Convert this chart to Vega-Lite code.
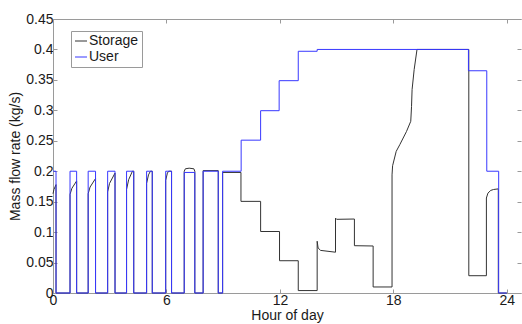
{
  "$schema": "https://vega.github.io/schema/vega-lite/v6.json",
  "width": 468,
  "height": 274,
  "autosize": {"type": "none"},
  "padding": {"left": 53, "top": 19, "right": 1, "bottom": 31},
  "background": "white",
  "config": {
    "view": {"stroke": null},
    "font": "Liberation Sans",
    "axis": {
      "domainColor": "#9a9a9a",
      "tickColor": "#9a9a9a",
      "labelColor": "#1a1a1a",
      "titleColor": "#1a1a1a",
      "labelFont": "Liberation Sans",
      "titleFont": "Liberation Sans",
      "labelFontSize": 14,
      "titleFontSize": 14,
      "titleFontWeight": "normal",
      "tickSize": -4,
      "labelFlush": false,
      "grid": false
    },
    "legend": {
      "orient": "none",
      "legendX": 18,
      "legendY": 12,
      "symbolType": "stroke",
      "symbolSize": 144,
      "symbolStrokeWidth": 1,
      "labelFont": "Liberation Sans",
      "labelFontSize": 14,
      "labelColor": "#1a1a1a",
      "labelOffset": 1,
      "padding": 3,
      "rowPadding": 2,
      "strokeColor": "#9a9a9a",
      "fillColor": "white"
    }
  },
  "data": {
    "values": [
      {"series": "Storage", "hour": 0, "flow": 0.163},
      {"series": "Storage", "hour": 0.05, "flow": 0.17},
      {"series": "Storage", "hour": 0.16, "flow": 0.178},
      {"series": "Storage", "hour": 0.16, "flow": 0},
      {"series": "Storage", "hour": 0.9, "flow": 0},
      {"series": "Storage", "hour": 0.9, "flow": 0.162},
      {"series": "Storage", "hour": 1.0, "flow": 0.172},
      {"series": "Storage", "hour": 1.25, "flow": 0.184},
      {"series": "Storage", "hour": 1.25, "flow": 0},
      {"series": "Storage", "hour": 1.86, "flow": 0},
      {"series": "Storage", "hour": 1.86, "flow": 0.163},
      {"series": "Storage", "hour": 1.96, "flow": 0.174},
      {"series": "Storage", "hour": 2.25, "flow": 0.188},
      {"series": "Storage", "hour": 2.25, "flow": 0},
      {"series": "Storage", "hour": 2.89, "flow": 0},
      {"series": "Storage", "hour": 2.89, "flow": 0.166},
      {"series": "Storage", "hour": 2.99, "flow": 0.18},
      {"series": "Storage", "hour": 3.28, "flow": 0.197},
      {"series": "Storage", "hour": 3.28, "flow": 0},
      {"series": "Storage", "hour": 3.89, "flow": 0},
      {"series": "Storage", "hour": 3.89, "flow": 0.17},
      {"series": "Storage", "hour": 4.0, "flow": 0.186},
      {"series": "Storage", "hour": 4.2, "flow": 0.2},
      {"series": "Storage", "hour": 4.27, "flow": 0.2},
      {"series": "Storage", "hour": 4.27, "flow": 0},
      {"series": "Storage", "hour": 4.95, "flow": 0},
      {"series": "Storage", "hour": 4.95, "flow": 0.18},
      {"series": "Storage", "hour": 5.05, "flow": 0.194},
      {"series": "Storage", "hour": 5.15, "flow": 0.2},
      {"series": "Storage", "hour": 5.25, "flow": 0.2},
      {"series": "Storage", "hour": 5.25, "flow": 0},
      {"series": "Storage", "hour": 5.96, "flow": 0},
      {"series": "Storage", "hour": 5.96, "flow": 0.185},
      {"series": "Storage", "hour": 6.05, "flow": 0.197},
      {"series": "Storage", "hour": 6.12, "flow": 0.2},
      {"series": "Storage", "hour": 6.27, "flow": 0.2},
      {"series": "Storage", "hour": 6.27, "flow": 0},
      {"series": "Storage", "hour": 6.94, "flow": 0},
      {"series": "Storage", "hour": 6.94, "flow": 0.2},
      {"series": "Storage", "hour": 7.0, "flow": 0.204},
      {"series": "Storage", "hour": 7.2, "flow": 0.205},
      {"series": "Storage", "hour": 7.45, "flow": 0.204},
      {"series": "Storage", "hour": 7.5, "flow": 0.2},
      {"series": "Storage", "hour": 7.5, "flow": 0},
      {"series": "Storage", "hour": 7.94, "flow": 0},
      {"series": "Storage", "hour": 7.94, "flow": 0.201},
      {"series": "Storage", "hour": 8.74, "flow": 0.201},
      {"series": "Storage", "hour": 8.74, "flow": 0},
      {"series": "Storage", "hour": 8.97, "flow": 0},
      {"series": "Storage", "hour": 8.97, "flow": 0.198},
      {"series": "Storage", "hour": 9.94, "flow": 0.198},
      {"series": "Storage", "hour": 9.94, "flow": 0.1505},
      {"series": "Storage", "hour": 10.98, "flow": 0.1505},
      {"series": "Storage", "hour": 10.98, "flow": 0.101},
      {"series": "Storage", "hour": 11.98, "flow": 0.101},
      {"series": "Storage", "hour": 11.98, "flow": 0.053},
      {"series": "Storage", "hour": 12.97, "flow": 0.053},
      {"series": "Storage", "hour": 12.97, "flow": 0.004},
      {"series": "Storage", "hour": 13.97, "flow": 0.004},
      {"series": "Storage", "hour": 13.97, "flow": 0.085},
      {"series": "Storage", "hour": 14.02, "flow": 0.074},
      {"series": "Storage", "hour": 14.15, "flow": 0.07},
      {"series": "Storage", "hour": 14.94, "flow": 0.067},
      {"series": "Storage", "hour": 14.94, "flow": 0.123},
      {"series": "Storage", "hour": 15.0, "flow": 0.121},
      {"series": "Storage", "hour": 15.94, "flow": 0.1215},
      {"series": "Storage", "hour": 15.94, "flow": 0.0777},
      {"series": "Storage", "hour": 16.93, "flow": 0.0772},
      {"series": "Storage", "hour": 16.93, "flow": 0.0099},
      {"series": "Storage", "hour": 17.93, "flow": 0.0099},
      {"series": "Storage", "hour": 17.93, "flow": 0.194},
      {"series": "Storage", "hour": 17.96, "flow": 0.209},
      {"series": "Storage", "hour": 18.15, "flow": 0.2326},
      {"series": "Storage", "hour": 18.34, "flow": 0.2436},
      {"series": "Storage", "hour": 18.69, "flow": 0.265},
      {"series": "Storage", "hour": 18.92, "flow": 0.282},
      {"series": "Storage", "hour": 18.96, "flow": 0.306},
      {"series": "Storage", "hour": 18.99, "flow": 0.334},
      {"series": "Storage", "hour": 19.1, "flow": 0.367},
      {"series": "Storage", "hour": 19.25, "flow": 0.4},
      {"series": "Storage", "hour": 21.99, "flow": 0.4},
      {"series": "Storage", "hour": 21.99, "flow": 0.0284},
      {"series": "Storage", "hour": 22.92, "flow": 0.0284},
      {"series": "Storage", "hour": 22.92, "flow": 0.156},
      {"series": "Storage", "hour": 23.0, "flow": 0.164},
      {"series": "Storage", "hour": 23.15, "flow": 0.1685},
      {"series": "Storage", "hour": 23.3, "flow": 0.17},
      {"series": "Storage", "hour": 23.55, "flow": 0.171},
      {"series": "Storage", "hour": 23.55, "flow": 0},
      {"series": "Storage", "hour": 24.0, "flow": 0},
      {"series": "User", "hour": 0, "flow": 0.2},
      {"series": "User", "hour": 0.16, "flow": 0.2},
      {"series": "User", "hour": 0.16, "flow": 0},
      {"series": "User", "hour": 0.9, "flow": 0},
      {"series": "User", "hour": 0.9, "flow": 0.2},
      {"series": "User", "hour": 1.25, "flow": 0.2},
      {"series": "User", "hour": 1.25, "flow": 0},
      {"series": "User", "hour": 1.86, "flow": 0},
      {"series": "User", "hour": 1.86, "flow": 0.2},
      {"series": "User", "hour": 2.25, "flow": 0.2},
      {"series": "User", "hour": 2.25, "flow": 0},
      {"series": "User", "hour": 2.89, "flow": 0},
      {"series": "User", "hour": 2.89, "flow": 0.2},
      {"series": "User", "hour": 3.28, "flow": 0.2},
      {"series": "User", "hour": 3.28, "flow": 0},
      {"series": "User", "hour": 3.89, "flow": 0},
      {"series": "User", "hour": 3.89, "flow": 0.2},
      {"series": "User", "hour": 4.27, "flow": 0.2},
      {"series": "User", "hour": 4.27, "flow": 0},
      {"series": "User", "hour": 4.95, "flow": 0},
      {"series": "User", "hour": 4.95, "flow": 0.2},
      {"series": "User", "hour": 5.25, "flow": 0.2},
      {"series": "User", "hour": 5.25, "flow": 0},
      {"series": "User", "hour": 5.96, "flow": 0},
      {"series": "User", "hour": 5.96, "flow": 0.2},
      {"series": "User", "hour": 6.27, "flow": 0.2},
      {"series": "User", "hour": 6.27, "flow": 0},
      {"series": "User", "hour": 6.94, "flow": 0},
      {"series": "User", "hour": 6.94, "flow": 0.198},
      {"series": "User", "hour": 7.5, "flow": 0.198},
      {"series": "User", "hour": 7.5, "flow": 0},
      {"series": "User", "hour": 7.94, "flow": 0},
      {"series": "User", "hour": 7.94, "flow": 0.2},
      {"series": "User", "hour": 8.74, "flow": 0.2},
      {"series": "User", "hour": 8.74, "flow": 0},
      {"series": "User", "hour": 8.97, "flow": 0},
      {"series": "User", "hour": 8.97, "flow": 0.2},
      {"series": "User", "hour": 9.95, "flow": 0.2},
      {"series": "User", "hour": 9.95, "flow": 0.251},
      {"series": "User", "hour": 10.98, "flow": 0.251},
      {"series": "User", "hour": 10.98, "flow": 0.2994},
      {"series": "User", "hour": 11.96, "flow": 0.2994},
      {"series": "User", "hour": 11.96, "flow": 0.3487},
      {"series": "User", "hour": 12.97, "flow": 0.3487},
      {"series": "User", "hour": 12.97, "flow": 0.397},
      {"series": "User", "hour": 13.97, "flow": 0.397},
      {"series": "User", "hour": 13.97, "flow": 0.4},
      {"series": "User", "hour": 21.97, "flow": 0.4},
      {"series": "User", "hour": 21.97, "flow": 0.365},
      {"series": "User", "hour": 22.94, "flow": 0.365},
      {"series": "User", "hour": 22.94, "flow": 0.2},
      {"series": "User", "hour": 23.57, "flow": 0.2},
      {"series": "User", "hour": 23.57, "flow": 0},
      {"series": "User", "hour": 24.0, "flow": 0}
    ]
  },
  "resolve": {"axis": {"x": "independent", "y": "independent"}},
  "layer": [
    {
      "transform": [{"filter": "datum.series === 'Storage'"}],
      "mark": {"type": "line", "strokeWidth": 1},
      "encoding": {
        "x": {
          "field": "hour", "type": "quantitative",
          "scale": {"domain": [0, 24.75], "nice": false, "zero": false},
          "axis": {"orient": "bottom", "values": [0, 6, 12, 18, 24], "title": "Hour of day", "labelPadding": 4, "titleY": 26, "titleBaseline": "alphabetic"}
        },
        "y": {
          "field": "flow", "type": "quantitative",
          "scale": {"domain": [0, 0.45], "nice": false},
          "axis": {"orient": "left", "values": [0, 0.05, 0.1, 0.15, 0.2, 0.25, 0.3, 0.35, 0.4, 0.45], "format": "~g", "title": "Mass flow rate (kg/s)", "labelPadding": 4, "titleX": -34, "titleY": 137, "titleBaseline": "alphabetic", "titleAngle": -90}
        },
        "color": {
          "field": "series", "type": "nominal",
          "scale": {"domain": ["Storage", "User"], "range": ["#333333", "#3838ff"]},
          "legend": {"title": null}
        },
        "order": {"value": null}
      }
    },
    {
      "transform": [{"filter": "datum.series === 'User'"}],
      "mark": {"type": "line", "strokeWidth": 1},
      "encoding": {
        "x": {
          "field": "hour", "type": "quantitative",
          "axis": {"orient": "top", "values": [0, 6, 12, 18, 24], "labels": false, "title": null}
        },
        "y": {
          "field": "flow", "type": "quantitative",
          "axis": {"orient": "right", "values": [0, 0.05, 0.1, 0.15, 0.2, 0.25, 0.3, 0.35, 0.4, 0.45], "labels": false, "title": null, "domain": false}
        },
        "color": {"field": "series", "type": "nominal", "legend": {"title": null}},
        "order": {"value": null}
      }
    }
  ]
}
